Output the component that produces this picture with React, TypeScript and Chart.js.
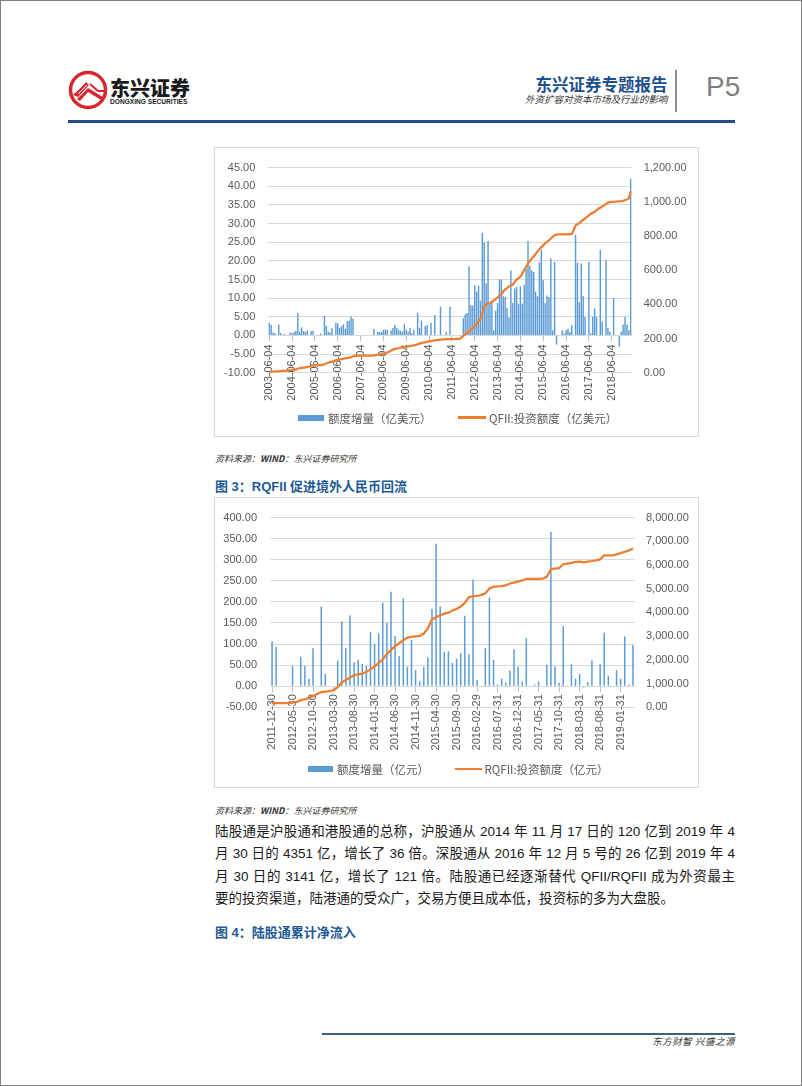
import React, { useEffect, useRef } from 'react';
import { Chart, registerables } from 'chart.js';

Chart.register(...registerables);

// ---------------- Chart 1 : QFII ----------------
const qfiiStartYear = 2003;
const qfiiStartMonth = 6;
const qfiiTickLabels = [
  '2003-06-04', '2004-06-04', '2005-06-04', '2006-06-04', '2007-06-04', '2008-06-04',
  '2009-06-04', '2010-06-04', '2011-06-04', '2012-06-04', '2013-06-04', '2014-06-04',
  '2015-06-04', '2016-06-04', '2017-06-04', '2018-06-04',
];
// 额度增量（亿美元） monthly
const qfiiIncrease = [
  3.4, 2.8, 0.8, 0.6, 0, 2.9, 0.6, 0, 0.4, 0,
  0, 0.8, 0.6, 1.0, 1.2, 6.0, 1.0, 2.2, 1.2, 1.0,
  1.4, 0, 1.2, 1.2, 0, 0, 0, 0.5, 0, 5.3,
  2.6, 1.0, 0.8, 2.0, 0, 3.4, 3.2, 2.0, 2.5, 3.0,
  1.8, 3.8, 3.9, 5.0, 4.5, 0, 0, 0, 0, 0,
  0, 0, 0, 0, 0, 1.8, 0, 1.0, 0.9, 1.0,
  1.5, 1.6, 1.5, 0, 1.3, 2.0, 2.8, 2.0, 1.5, 1.2,
  1.0, 3.0, 1.5, 1.0, 2.0, 0.5, 1.5, 0, 6.0, 2.0,
  4.0, 0, 2.5, 2.8, 0, 3.4, 0, 5.5, 0, 0,
  7.7, 0, 0, 1.0, 0, 7.7, 0, 0, 0, 0,
  0, 0, 4.6, 5.7, 6.0, 18.5, 8.1, 8.0, 13.5, 11.8,
  13.3, 9.3, 27.5, 25.0, 14.0, 25.3, 8.7, 9.0, 1.4, 6.6,
  8.7, 15.0, 15.0, 10.5, 10.3, 7.3, 4.8, 17.4, 8.7, 12.6,
  13.0, 8.5, 13.2, 8.5, 13.5, 17.8, 25.3, 18.7, 17.4, 17.0,
  11.8, 10.5, 19.6, 23.0, 14.8, 8.7, 10.7, 10.3, 20.6, 1.4,
  19.7, -2.5, 0, 0, 1.4, 0.5, 1.4, 1.8, 1.0, 2.7,
  0, 26.9, 19.5, 8.9, 19.3, 10.6, 5.0, 0, 19.7, 0.5,
  5.0, 7.2, 5.1, 0, 23.0, 3.7, 0, 20.2, 2.0, 1.0,
  0, 10.0, 0, 0, -3.0, 1.0, 2.9, 5.0, 2.9, 1.4,
  42.0,
];
// QFII:投资额度（亿美元） monthly
const qfiiQuota = [
  3, 5, 6, 7, 8, 8, 10, 10, 11, 12,
  13, 15, 17, 18, 18, 24, 26, 28, 30, 31,
  34, 36, 40, 42, 43, 43, 44, 45, 46, 50,
  55, 58, 62, 65, 68, 72, 75, 77, 80, 82,
  84, 86, 88, 91, 95, 98, 99, 100, 100, 100,
  100, 100, 100, 100, 100, 101, 103, 105, 107, 110,
  112, 114, 118, 122, 130, 136, 139, 141, 143, 146,
  148, 150, 152, 154, 155, 158, 160, 163, 166, 170,
  174, 176, 178, 180, 183, 185, 187, 189, 190, 192,
  194, 195, 195, 196, 196, 197, 197, 197, 198, 198,
  198, 205, 215, 225, 232, 242, 252, 260, 270, 285,
  300, 315, 345, 390, 400, 405, 408, 415, 422, 430,
  440, 450, 458, 475, 487, 495, 505, 512, 515, 530,
  545, 553, 562, 580, 600, 620, 640, 655, 668, 680,
  695, 710, 723, 735, 745, 758, 765, 775, 785, 795,
  805, 808, 810, 810, 810, 810, 810, 810, 811, 812,
  835, 862, 868, 875, 885, 895, 902, 912, 921, 930,
  935, 942, 950, 959, 965, 972, 980, 987, 995, 998,
  1000, 1000, 1001, 1002, 1003, 1004, 1006, 1010, 1013, 1020,
  1062,
];

// ---------------- Chart 2 : RQFII ----------------
const rqfiiStartYear = 2011;
const rqfiiStartMonth = 12;
const rqfiiTickLabels = [
  '2011-12-30', '2012-05-30', '2012-10-30', '2013-03-30', '2013-08-30', '2014-01-30',
  '2014-06-30', '2014-11-30', '2015-04-30', '2015-09-30', '2016-02-29', '2016-07-31',
  '2016-12-31', '2017-05-31', '2017-10-31', '2018-03-31', '2018-08-31', '2019-01-31',
];
// 额度增量（亿元） monthly
const rqfiiIncrease = [
  106, 93, 0, 0, 0, 48, 0, 70, 48, 18,
  90, 0, 189, 29, 0, 0, 61, 154, 90, 168,
  57, 63, 53, 48, 128, 101, 125, 198, 150, 224,
  119, 71, 208, 46, 110, 38, 12, 46, 69, 183,
  338, 189, 81, 83, 55, 65, 78, 167, 76, 253,
  15, 0, 90, 210, 62, 4, 18, 8, 37, 88,
  46, 11, 114, 2, 4, 11, 0, 51, 366, 47,
  8, 143, 1.5, 52, 18, 29, -3, 10, 61, 0,
  52, 127, 25, 0, 38, 18, 118, 4, 98,
];
// RQFII:投资额度（亿元） monthly
const rqfiiQuota = [
  180, 180, 180, 180, 185, 200, 230, 300, 340, 400,
  463, 560, 640, 660, 680, 720, 850, 1049, 1150, 1253,
  1364, 1390, 1417, 1500, 1600, 1730, 1868, 2020, 2250, 2420,
  2580, 2700, 2826, 2940, 2970, 2990, 3010, 3110, 3330, 3711,
  3800, 3880, 3950, 3990, 4080, 4150, 4250, 4400, 4640, 4690,
  4694, 4740, 4805, 5009, 5080, 5104, 5110, 5140, 5220, 5260,
  5300, 5350, 5419, 5419, 5419, 5419, 5430, 5500, 5829, 5850,
  5870, 6033, 6060, 6090, 6130, 6144, 6110, 6144, 6170, 6200,
  6238, 6402, 6402, 6402, 6450, 6500, 6560, 6620, 6690,
];

const paragraphLines = [
  '陆股通是沪股通和港股通的总称，沪股通从 2014 年 11 月 17 日的 120 亿到 2019 年 4',
  '月 30 日的 4351 亿，增长了 36 倍。深股通从 2016 年 12 月 5 号的 26 亿到 2019 年 4',
  '月 30 日的 3141 亿，增长了 121 倍。陆股通已经逐渐替代 QFII/RQFII 成为外资最主',
  '要的投资渠道，陆港通的受众广，交易方便且成本低，投资标的多为大盘股。',
];

const FONT_NUM = "'Liberation Sans', 'Noto Sans CJK SC', sans-serif";
const FONT_CJK = "'Noto Sans CJK SC', 'Liberation Sans', sans-serif";
const BAR_COLOR = '#5b9bd5';
const LINE_COLOR = '#ed7d31';
const TICK_COLOR = '#595959';
const GRID_COLOR = '#d9d9d9';
const TITLE_BLUE = '#1e5a96';

function monthCategory(startYear: number, startMonth: number, offset: number) {
  const m = startMonth - 1 + offset;
  const y = startYear + Math.floor(m / 12);
  const mm = (m % 12) + 1;
  return `${y}-${String(mm).padStart(2, '0')}`;
}

const qfiiCategories = qfiiIncrease.map((_, i) => monthCategory(qfiiStartYear, qfiiStartMonth, i));
const rqfiiCategories = rqfiiIncrease.map((_, i) => monthCategory(rqfiiStartYear, rqfiiStartMonth, i));

type Spec = {
  categories: string[];
  bars: number[];
  line: number[];
  barLabel: string;
  lineLabel: string;
  yMin: number; yMax: number; yStep: number;
  y1Min: number; y1Max: number; y1Step: number;
  tickLabels: string[]; tickEvery: number;
  leftWidth: number; rightWidth: number;
  padTop: number; padBottom: number;
  leftPad: number; rightPad: number; xPad: number;
  barPct: number;
};

const fmt2 = (v: number) => Number(v).toFixed(2);
const fmtThousands = (v: number) =>
  Number(v).toLocaleString('en-US', { minimumFractionDigits: 2, maximumFractionDigits: 2 });

function buildConfig(s: Spec): any {
  return {
    data: {
      labels: s.categories,
      datasets: [
        {
          type: 'line',
          label: s.lineLabel,
          data: s.line,
          yAxisID: 'y1',
          borderColor: LINE_COLOR,
          backgroundColor: LINE_COLOR,
          borderWidth: 2.25,
          pointRadius: 0,
          tension: 0,
          order: 1,
        },
        {
          type: 'bar',
          label: s.barLabel,
          data: s.bars,
          yAxisID: 'y',
          backgroundColor: BAR_COLOR,
          borderWidth: 0,
          barPercentage: s.barPct,
          categoryPercentage: 1,
          order: 2,
        },
      ],
    },
    options: {
      responsive: false,
      animation: false,
      devicePixelRatio: 1,
      events: [],
      layout: { padding: { top: s.padTop, bottom: s.padBottom, left: 0, right: 0 } },
      plugins: { legend: { display: false }, tooltip: { enabled: false } },
      scales: {
        x: {
          type: 'category',
          position: { y: 0 },
          offset: true,
          grid: {
            display: true,
            offset: false,
            drawOnChartArea: false,
            drawTicks: true,
            tickLength: 5,
            color: (ctx: any) => (ctx.index % s.tickEvery === 0 ? '#bfbfbf' : 'rgba(0,0,0,0)'),
          },
          border: { display: true, color: GRID_COLOR, width: 1 },
          ticks: {
            autoSkip: false,
            minRotation: 90,
            maxRotation: 90,
            padding: s.xPad,
            color: TICK_COLOR,
            font: { family: FONT_NUM, size: 11 },
            callback: (_v: any, index: number) =>
              index % s.tickEvery === 0 ? s.tickLabels[index / s.tickEvery] ?? '' : '',
          },
        },
        y: {
          type: 'linear',
          position: 'left',
          min: s.yMin,
          max: s.yMax,
          afterFit: (scale: any) => { scale.width = s.leftWidth; },
          grid: { color: GRID_COLOR, lineWidth: 1, drawTicks: false },
          border: { display: false },
          ticks: {
            stepSize: s.yStep,
            padding: s.leftPad,
            color: TICK_COLOR,
            font: { family: FONT_NUM, size: 11 },
            callback: (v: any) => fmt2(v),
          },
        },
        y1: {
          type: 'linear',
          position: 'right',
          min: s.y1Min,
          max: s.y1Max,
          afterFit: (scale: any) => { scale.width = s.rightWidth; },
          grid: { drawOnChartArea: false, drawTicks: false },
          border: { display: false },
          ticks: {
            stepSize: s.y1Step,
            padding: s.rightPad,
            color: TICK_COLOR,
            font: { family: FONT_NUM, size: 11 },
            callback: (v: any) => fmtThousands(v),
          },
        },
      },
    },
  };
}

function DualChart({ spec, left, top, width, height }: { spec: Spec; left: number; top: number; width: number; height: number }) {
  const ref = useRef<HTMLCanvasElement | null>(null);
  useEffect(() => {
    if (!ref.current) return;
    const chart = new Chart(ref.current, buildConfig(spec));
    return () => chart.destroy();
  }, [spec]);
  return (
    <canvas
      ref={ref}
      width={width}
      height={height}
      style={{ position: 'absolute', left, top, width, height, display: 'block' }}
    />
  );
}

const qfiiSpec: Spec = {
  categories: qfiiCategories,
  bars: qfiiIncrease,
  line: qfiiQuota,
  barLabel: '额度增量（亿美元）',
  lineLabel: 'QFII:投资额度（亿美元）',
  yMin: -10, yMax: 45, yStep: 5,
  y1Min: 0, y1Max: 1200, y1Step: 200,
  tickLabels: qfiiTickLabels, tickEvery: 12,
  leftWidth: 53.3, rightWidth: 66.3,
  padTop: 12.7, padBottom: 63.3,
  leftPad: 13, rightPad: 12, xPad: 4,
  barPct: 0.75,
};

const rqfiiSpec: Spec = {
  categories: rqfiiCategories,
  bars: rqfiiIncrease,
  line: rqfiiQuota,
  barLabel: '额度增量（亿元）',
  lineLabel: 'RQFII:投资额度（亿元）',
  yMin: -50, yMax: 400, yStep: 50,
  y1Min: 0, y1Max: 8000, y1Step: 1000,
  tickLabels: rqfiiTickLabels, tickEvery: 5,
  leftWidth: 55, rightWidth: 63,
  padTop: 14, padBottom: 79.7,
  leftPad: 13, rightPad: 11, xPad: 3,
  barPct: 0.36,
};

function Txt({ x, cy, size, children, style, right }: any) {
  const lh = Math.ceil(size * 1.5);
  const pos: any = right !== undefined ? { right } : { left: x };
  return (
    <div
      style={{
        position: 'absolute',
        top: cy - lh / 2,
        height: lh,
        lineHeight: `${lh}px`,
        fontSize: size,
        whiteSpace: 'nowrap',
        ...pos,
        ...style,
      }}
    >
      {children}
    </div>
  );
}

function Legend({ boxX, boxY, boxW, textX1, lineX, lineW, textX2, cy, label1, label2 }: any) {
  return (
    <>
      <div style={{ position: 'absolute', left: boxX, top: boxY, width: boxW, height: 6, background: BAR_COLOR }} />
      <Txt x={textX1} cy={cy} size={11.5} style={{ fontFamily: FONT_CJK, color: TICK_COLOR }}>{label1}</Txt>
      <div style={{ position: 'absolute', left: lineX, top: cy - 1.1, width: lineW, height: 2.25, background: LINE_COLOR }} />
      <Txt x={textX2} cy={cy} size={11.5} style={{ fontFamily: FONT_CJK, color: TICK_COLOR }}>{label2}</Txt>
    </>
  );
}

function Logo() {
  return (
    <svg width={40} height={40} viewBox="0 0 40 40" style={{ position: 'absolute', left: 68, top: 70 }}>
      <circle cx={20} cy={20} r={17.5} fill="#ffffff" stroke="#d7262d" strokeWidth={3.5} />
      <path d="M5 25 L18 12 L21 15 L10 27 Z" fill="#d7262d" />
      <path d="M9 29 L20 18 L35 27 L33 30 L20 22 L12 31 Z" fill="#d7262d" />
      <path d="M8 22 L17 13" stroke="#ffffff" strokeWidth={1} />
      <path d="M10 24 L19 15" stroke="#ffffff" strokeWidth={1} />
      <path d="M22 14 L30 21 L36 21" stroke="#d7262d" strokeWidth={2} fill="none" />
    </svg>
  );
}

export default function App() {
  const sourceText = (
    <>
      资料来源：<b>WIND</b>：东兴证券研究所
    </>
  );
  return (
    <div
      style={{
        position: 'absolute',
        left: 0,
        top: 0,
        width: 802,
        height: 1086,
        boxSizing: 'border-box',
        border: '1px solid #808080',
        background: '#ffffff',
        fontFamily: FONT_CJK,
        overflow: 'hidden',
      }}
    >
      <div style={{ position: 'absolute', left: -1, top: -1, width: 802, height: 1086 }}>
        {/* Header */}
        <Logo />
        <Txt x={110} cy={88} size={20} style={{ fontWeight: 900, color: '#1a1a1a', fontFamily: FONT_CJK }}>东兴证券</Txt>
        <Txt x={110} cy={102} size={6.6} style={{ fontWeight: 700, color: '#1a1a1a', fontFamily: FONT_NUM }}>DONGXING SECURITIES</Txt>
        <Txt right={802 - 667.5} cy={84} size={16.5} style={{ fontWeight: 700, color: '#1c4f8e', fontFamily: FONT_CJK }}>东兴证券专题报告</Txt>
        <Txt right={802 - 667.5} cy={99.5} size={9.5} style={{ color: '#333333', fontFamily: FONT_CJK, fontStyle: 'italic' }}>外资扩容对资本市场及行业的影响</Txt>
        <div style={{ position: 'absolute', left: 675, top: 70, width: 2, height: 42, background: '#8c8c8c' }} />
        <div
          style={{
            position: 'absolute', left: 706, top: 73, fontSize: 28, lineHeight: 1,
            fontFamily: "'Liberation Sans Narrow', 'Liberation Sans', sans-serif", color: '#7f7f7f',
          }}
        >
          P5
        </div>
        <div style={{ position: 'absolute', left: 68, top: 119.5, width: 667, height: 3, background: '#1f4e84' }} />

        {/* Chart 1 frame */}
        <div style={{ position: 'absolute', left: 214, top: 147, width: 485, height: 290, boxSizing: 'border-box', border: `1px solid ${GRID_COLOR}` }} />
        <DualChart spec={qfiiSpec} left={215} top={148} width={483} height={288} />
        <Legend
          boxX={298} boxY={414.5} boxW={26} textX1={328}
          lineX={458} lineW={28} textX2={489} cy={417.5}
          label1="额度增量（亿美元）" label2="QFII:投资额度（亿美元）"
        />

        <Txt x={215} cy={459} size={9} style={{ fontStyle: 'italic', color: '#333333' }}>{sourceText}</Txt>
        <Txt x={215} cy={486.7} size={13} style={{ fontWeight: 700, color: TITLE_BLUE, fontFamily: FONT_NUM }}>图 3：RQFII 促进境外人民币回流</Txt>

        {/* Chart 2 frame */}
        <div style={{ position: 'absolute', left: 214, top: 497, width: 485, height: 291, boxSizing: 'border-box', border: `1px solid ${GRID_COLOR}` }} />
        <DualChart spec={rqfiiSpec} left={215} top={498} width={483} height={289} />
        <Legend
          boxX={308} boxY={766.3} boxW={25} textX1={337}
          lineX={455} lineW={27} textX2={484.5} cy={769.3}
          label1="额度增量（亿元）" label2="RQFII:投资额度（亿元）"
        />

        <Txt x={215} cy={811} size={9} style={{ fontStyle: 'italic', color: '#333333' }}>{sourceText}</Txt>

        {/* Paragraph */}
        {paragraphLines.map((line, i) => (
          <div
            key={i}
            style={{
              position: 'absolute',
              left: 215,
              top: 820.5 + i * 22.5,
              width: 520,
              height: 22.5,
              lineHeight: '22.5px',
              fontSize: 13.5,
              fontFamily: FONT_NUM,
              color: '#1a1a1a',
              whiteSpace: 'nowrap',
              textAlign: i < paragraphLines.length - 1 ? 'justify' : 'left',
              textAlignLast: i < paragraphLines.length - 1 ? 'justify' : 'left',
            } as any}
          >
            {line}
          </div>
        ))}

        <Txt x={215} cy={933.3} size={13} style={{ fontWeight: 700, color: TITLE_BLUE, fontFamily: FONT_NUM }}>图 4：陆股通累计净流入</Txt>

        {/* Footer */}
        <div style={{ position: 'absolute', left: 322, top: 1032.5, width: 413, height: 2, background: '#3d5f80' }} />
        <Txt right={802 - 735} cy={1041.5} size={9.5} style={{ color: '#333333', fontStyle: 'italic', letterSpacing: 0.5 }}>东方财智 兴盛之源</Txt>
      </div>
    </div>
  );
}
